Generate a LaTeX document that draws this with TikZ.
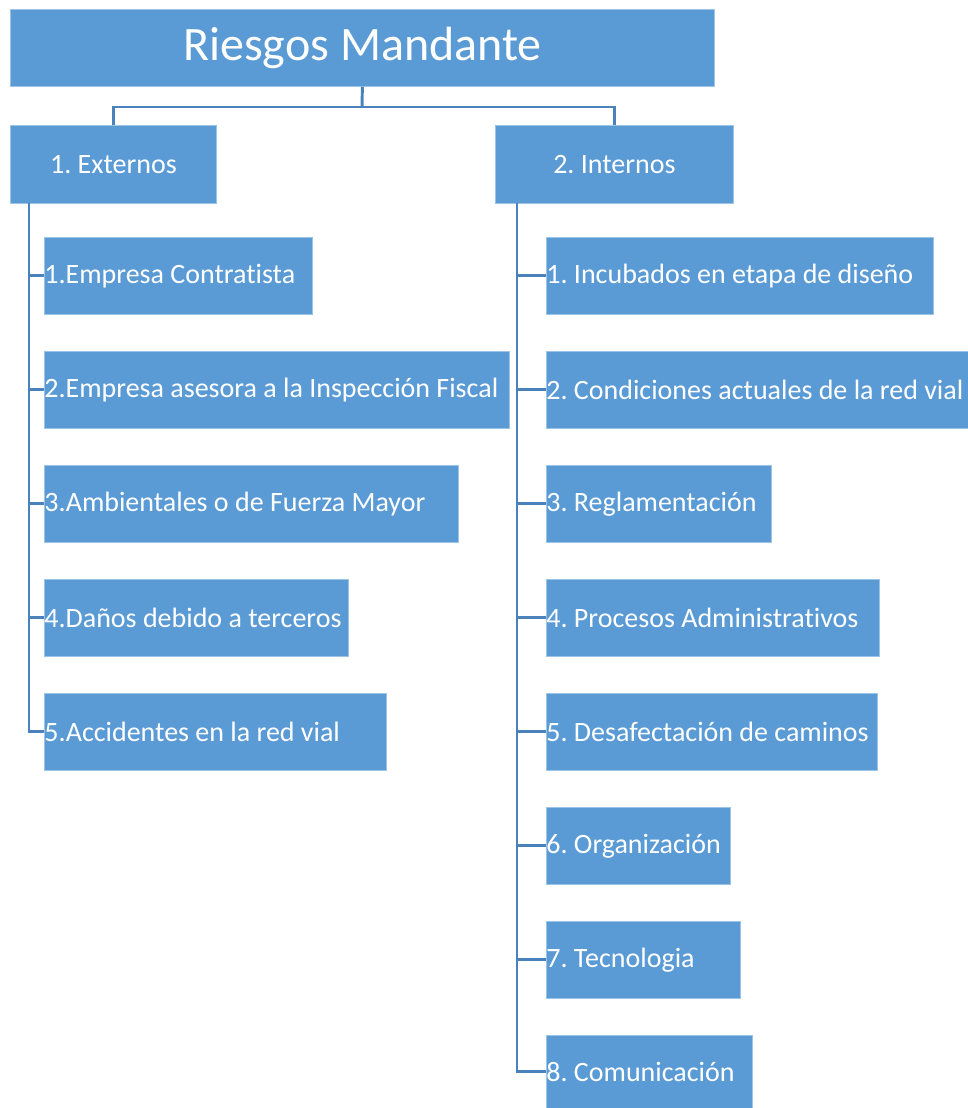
\documentclass[tikz,border=0pt]{standalone}
\usepackage{fontspec}
\setmainfont[Ligatures=CommonOff]{Carlito}
\definecolor{boxblue}{HTML}{5B9BD5}
\definecolor{boxedge}{HTML}{9DC3E6}
\definecolor{linkblue}{HTML}{4A82BE}
% left-aligned single-line label filling a box of the given width
\newcommand\leaftext[2]{\makebox[#1][l]{#2}}
\begin{document}
\frenchspacing
\begin{tikzpicture}[x=0.75pt,y=-0.75pt,
  box/.style={rectangle, fill=boxblue, draw=boxedge, line width=0.6pt,
    inner sep=0pt, anchor=north west, text=white},
  headbox/.style={box, align=center, font=\fontsize{21}{25}\selectfont},
  leafbox/.style={box, minimum height=57.75pt,
    font=\fontsize{21}{25}\selectfont},
  link/.style={draw=linkblue, line width=2.2pt}]
\useasboundingbox (0,0) rectangle (968,1108);

% root
\node[box, align=center, minimum width=528pt, minimum height=57.75pt,
  font=\fontsize{36}{42}\selectfont] (root) at (10,9) {Riesgos Mandante};

% branches
\node[headbox, minimum width=154.5pt, minimum height=58.5pt] (ext) at (10,125) {1. Externos};
\node[headbox, minimum width=178.5pt, minimum height=58.5pt] (int) at (495,125) {2. Internos};

% root -> branches
\coordinate (bar) at (362,107);
\draw[link] (root.south) -- (bar);
\draw[link] (ext.north) |- (bar) -| (int.north);

% leaves of "Externos"
\node[leafbox] (e1) at (44,237) {\leaftext{201pt}{1.Empresa Contratista}};
\node[leafbox] (e2) at (44,351) {\leaftext{348.75pt}{2.Empresa asesora a la Inspección Fiscal}};
\node[leafbox] (e3) at (44,465) {\leaftext{310.5pt}{3.Ambientales o de Fuerza Mayor}};
\node[leafbox] (e4) at (44,579) {\leaftext{228pt}{4.Daños debido a terceros}};
\node[leafbox] (e5) at (44,693) {\leaftext{256.5pt}{5.Accidentes en la red vial}};

% leaves of "Internos"
\node[leafbox] (i1) at (546,237) {\leaftext{290.25pt}{1. Incubados en etapa de diseño}};
\node[leafbox] (i2) at (546,351) {\leaftext{316.5pt}{2. Condiciones actuales de la red vial}};
\node[leafbox] (i3) at (546,465) {\leaftext{168.75pt}{3. Reglamentación}};
\node[leafbox] (i4) at (546,579) {\leaftext{249.75pt}{4. Procesos Administrativos}};
\node[leafbox] (i5) at (546,693) {\leaftext{248.25pt}{5. Desafectación de caminos}};
\node[leafbox] (i6) at (546,807) {\leaftext{138pt}{6. Organización}};
\node[leafbox] (i7) at (546,921) {\leaftext{145.5pt}{7. Tecnologia}};
\node[leafbox, minimum height=54.75pt] (i8) at (546,1035) {\leaftext{154.5pt}{8. Comunicación}};

% trunk lines with ticks
\coordinate (et) at (29,203);
\coordinate (it) at (517,203);
\foreach \n in {e1,e2,e3,e4}
  \draw[link] (et |- \n.west) -- (\n.west);
\draw[link] (et) |- (e5.west);
\foreach \n in {i1,i2,i3,i4,i5,i6,i7}
  \draw[link] (it |- \n.west) -- (\n.west);
\draw[link] (it) |- (i8.west);
\end{tikzpicture}
\end{document}
